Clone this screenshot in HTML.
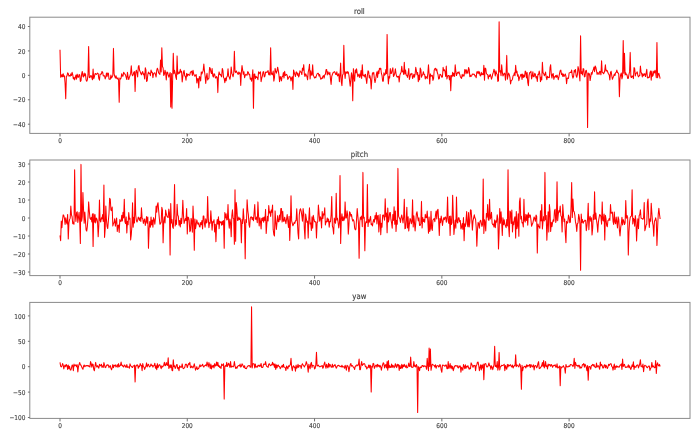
<!DOCTYPE html>
<html><head><meta charset="utf-8"><title>roll pitch yaw</title><style>html,body{margin:0;padding:0;background:#fff;width:700px;height:436px;overflow:hidden}svg{display:block;will-change:transform}text{font-family:"DejaVu Sans","Liberation Sans",sans-serif;font-size:6.70px;fill:#3a3a3a;stroke:#3a3a3a;stroke-width:0.12px;filter:url(#tb)}text.t{font-size:8.00px}</style></head><body>
<svg width="700" height="436" viewBox="0 0 700 436">
<defs><filter id="b" x="-5%" y="-5%" width="110%" height="110%"><feGaussianBlur stdDeviation="0.35"/></filter><filter id="tb" x="-10%" y="-10%" width="120%" height="120%"><feGaussianBlur stdDeviation="0.30"/></filter></defs>
<rect width="700" height="436" fill="#fff"/>
<polyline filter="url(#b)" fill="none" stroke="#ff0000" stroke-width="1.05" stroke-linejoin="round" points="60.00,49.70 60.64,77.12 61.27,76.75 61.91,74.54 62.55,76.79 63.18,73.71 63.82,76.72 64.45,75.88 65.09,83.48 65.73,98.80 66.36,76.28 67.00,75.80 67.64,72.78 68.27,73.52 68.91,76.21 69.55,75.44 70.18,76.09 70.82,73.90 71.46,75.45 72.09,72.31 72.73,74.68 73.36,78.92 74.00,77.34 74.64,79.86 75.27,77.59 75.91,75.12 76.55,79.14 77.18,74.15 77.82,77.02 78.46,77.27 79.09,74.54 79.73,74.88 80.36,81.38 81.00,80.60 81.64,74.17 82.27,71.42 82.91,76.09 83.55,76.99 84.18,73.07 84.82,75.81 85.46,73.83 86.09,80.07 86.73,81.19 87.37,79.77 88.00,74.68 88.64,46.50 89.27,77.55 89.91,77.66 90.55,75.81 91.18,75.60 91.82,77.49 92.46,79.82 93.09,69.12 93.73,78.74 94.37,76.90 95.00,73.81 95.64,73.60 96.27,74.46 96.91,73.96 97.55,73.17 98.18,73.66 98.82,78.59 99.46,80.16 100.09,73.98 100.73,74.16 101.37,74.06 102.00,71.49 102.64,72.17 103.28,75.87 103.91,75.77 104.55,75.85 105.18,78.92 105.82,77.05 106.46,73.08 107.09,76.35 107.73,72.93 108.37,73.14 109.00,79.08 109.64,79.31 110.28,79.34 110.91,75.14 111.55,78.04 112.18,76.72 112.82,75.51 113.46,48.40 114.09,73.74 114.73,76.31 115.37,78.09 116.00,75.75 116.64,78.27 117.28,79.02 117.91,77.74 118.55,79.83 119.19,102.30 119.82,77.98 120.46,79.16 121.09,78.03 121.73,73.70 122.37,76.09 123.00,76.22 123.64,72.29 124.28,73.37 124.91,74.18 125.55,75.02 126.19,77.36 126.82,79.58 127.46,72.31 128.09,76.75 128.73,79.55 129.37,77.45 130.00,75.57 130.64,73.13 131.28,65.68 131.91,74.06 132.55,75.73 133.19,74.72 133.82,72.15 134.46,71.67 135.10,91.60 135.73,72.59 136.37,70.17 137.00,72.98 137.64,77.02 138.28,67.04 138.91,65.44 139.55,70.33 140.19,71.65 140.82,73.58 141.46,74.80 142.10,72.51 142.73,71.62 143.37,74.70 144.00,73.73 144.64,79.05 145.28,67.75 145.91,69.86 146.55,81.37 147.19,80.77 147.82,74.50 148.46,72.12 149.10,73.57 149.73,73.26 150.37,75.71 151.01,69.99 151.64,72.46 152.28,72.23 152.91,77.68 153.55,73.64 154.19,73.10 154.82,72.70 155.46,74.73 156.10,77.01 156.73,70.36 157.37,68.26 158.01,70.05 158.64,72.95 159.28,73.68 159.91,74.34 160.55,60.00 161.19,71.87 161.82,47.80 162.46,66.47 163.10,68.02 163.73,75.47 164.37,74.19 165.01,70.20 165.64,72.93 166.28,79.99 166.92,72.10 167.55,72.21 168.19,74.84 168.82,77.18 169.46,74.95 170.10,72.51 170.73,106.90 171.37,73.44 172.01,108.20 172.64,78.77 173.28,53.20 173.92,73.66 174.55,70.26 175.19,73.27 175.82,77.09 176.46,79.39 177.10,55.90 177.73,74.22 178.37,73.59 179.01,72.04 179.64,73.24 180.28,69.37 180.92,72.12 181.55,71.29 182.19,81.86 182.83,76.45 183.46,72.28 184.10,70.39 184.73,76.04 185.37,76.25 186.01,80.13 186.64,73.40 187.28,76.12 187.92,74.16 188.55,74.53 189.19,75.38 189.83,74.83 190.46,71.96 191.10,71.92 191.73,71.22 192.37,75.48 193.01,70.35 193.64,73.70 194.28,75.25 194.92,76.36 195.55,74.89 196.19,74.65 196.83,83.05 197.46,78.70 198.10,78.61 198.74,88.00 199.37,76.58 200.01,77.12 200.64,81.00 201.28,71.90 201.92,73.90 202.55,72.35 203.19,70.41 203.83,64.00 204.46,71.02 205.10,76.12 205.74,83.56 206.37,76.77 207.01,73.28 207.64,80.00 208.28,78.66 208.92,78.31 209.55,67.49 210.19,68.09 210.83,71.75 211.46,73.61 212.10,68.64 212.74,75.67 213.37,77.04 214.01,73.68 214.65,74.36 215.28,77.34 215.92,78.17 216.55,76.50 217.19,77.56 217.83,92.60 218.46,75.57 219.10,71.90 219.74,74.68 220.37,74.28 221.01,75.67 221.65,76.86 222.28,68.49 222.92,70.52 223.55,77.51 224.19,78.58 224.83,82.69 225.46,78.12 226.10,80.82 226.74,76.96 227.37,76.18 228.01,68.67 228.65,75.97 229.28,77.13 229.92,79.32 230.56,75.84 231.19,66.91 231.83,73.17 232.46,74.92 233.10,76.75 233.74,73.22 234.37,51.20 235.01,71.21 235.65,72.63 236.28,70.89 236.92,72.35 237.56,73.44 238.19,74.45 238.83,71.96 239.46,73.65 240.10,72.82 240.74,85.40 241.37,72.55 242.01,65.48 242.65,70.14 243.28,74.31 243.92,71.66 244.56,77.80 245.19,75.65 245.83,74.21 246.47,75.04 247.10,75.13 247.74,71.65 248.37,72.36 249.01,74.62 249.65,74.24 250.28,79.23 250.92,78.15 251.56,81.22 252.19,77.09 252.83,69.81 253.47,108.20 254.10,74.21 254.74,74.02 255.37,78.68 256.01,76.31 256.65,77.44 257.28,77.28 257.92,79.67 258.56,71.81 259.19,73.83 259.83,72.44 260.47,71.86 261.10,81.62 261.74,78.19 262.38,75.82 263.01,71.96 263.65,71.66 264.28,76.92 264.92,76.25 265.56,72.21 266.19,71.93 266.83,72.47 267.47,71.59 268.10,70.62 268.74,74.77 269.38,72.82 270.01,75.13 270.65,47.80 271.28,74.34 271.92,73.17 272.56,74.78 273.19,71.05 273.83,81.10 274.47,77.73 275.10,68.29 275.74,71.04 276.38,73.21 277.01,70.89 277.65,67.17 278.29,70.66 278.92,74.86 279.56,81.81 280.19,76.45 280.83,77.83 281.47,80.85 282.10,76.44 282.74,76.43 283.38,72.60 284.01,78.07 284.65,71.32 285.29,75.50 285.92,74.92 286.56,74.38 287.19,75.44 287.83,79.36 288.47,78.19 289.10,76.90 289.74,76.19 290.38,77.62 291.01,80.96 291.65,77.74 292.29,76.73 292.92,89.40 293.56,69.99 294.20,72.42 294.83,74.63 295.47,76.55 296.10,72.01 296.74,72.07 297.38,75.22 298.01,73.24 298.65,76.98 299.29,75.24 299.92,70.72 300.56,71.96 301.20,72.00 301.83,74.58 302.47,68.15 303.10,70.19 303.74,64.65 304.38,74.32 305.01,76.50 305.65,73.76 306.29,75.24 306.92,76.48 307.56,79.84 308.20,72.11 308.83,69.45 309.47,64.39 310.11,79.08 310.74,70.85 311.38,75.04 312.01,75.13 312.65,64.70 313.29,75.10 313.92,76.59 314.56,78.04 315.20,76.97 315.83,77.73 316.47,75.43 317.11,73.83 317.74,73.29 318.38,73.33 319.01,76.04 319.65,74.53 320.29,77.55 320.92,79.35 321.56,78.10 322.20,78.52 322.83,76.45 323.47,75.68 324.11,78.11 324.74,74.78 325.38,74.24 326.02,69.77 326.65,69.50 327.29,74.87 327.92,71.72 328.56,73.49 329.20,74.48 329.83,72.32 330.47,78.92 331.11,84.54 331.74,76.38 332.38,74.49 333.02,72.80 333.65,72.51 334.29,71.65 334.92,72.08 335.56,74.27 336.20,74.57 336.83,71.82 337.47,75.86 338.11,75.36 338.74,73.79 339.38,81.68 340.02,75.52 340.65,63.10 341.29,81.94 341.93,85.60 342.56,75.07 343.20,73.96 343.83,45.20 344.47,71.31 345.11,78.52 345.74,71.85 346.38,72.00 347.02,73.50 347.65,71.60 348.29,72.06 348.93,75.25 349.56,80.76 350.20,86.20 350.83,79.86 351.47,72.74 352.11,75.31 352.74,100.70 353.38,68.65 354.02,77.56 354.65,81.11 355.29,69.84 355.93,72.83 356.56,68.82 357.20,73.22 357.84,76.71 358.47,75.06 359.11,73.93 359.74,77.58 360.38,75.76 361.02,70.57 361.65,78.38 362.29,64.70 362.93,75.39 363.56,75.94 364.20,74.85 364.84,77.00 365.47,74.29 366.11,78.99 366.74,83.49 367.38,75.78 368.02,70.73 368.65,71.77 369.29,77.88 369.93,75.64 370.56,79.31 371.20,88.90 371.84,79.15 372.47,72.70 373.11,73.87 373.75,72.39 374.38,78.90 375.02,82.59 375.65,79.41 376.29,74.96 376.93,71.84 377.56,77.43 378.20,70.88 378.84,73.72 379.47,68.17 380.11,69.17 380.75,68.16 381.38,73.45 382.02,75.51 382.65,81.14 383.29,81.14 383.93,72.79 384.56,75.12 385.20,74.64 385.84,69.61 386.47,73.73 387.11,34.40 387.75,73.23 388.38,84.00 389.02,76.45 389.66,77.93 390.29,68.48 390.93,73.52 391.56,73.24 392.20,69.86 392.84,67.82 393.47,76.39 394.11,75.45 394.75,73.01 395.38,68.76 396.02,73.82 396.66,76.26 397.29,77.25 397.93,76.34 398.56,76.26 399.20,82.07 399.84,75.25 400.47,73.53 401.11,72.30 401.75,66.33 402.38,71.74 403.02,71.01 403.66,74.51 404.29,62.30 404.93,74.01 405.57,69.97 406.20,75.14 406.84,75.17 407.47,77.36 408.11,73.62 408.75,68.54 409.38,79.46 410.02,76.79 410.66,73.85 411.29,74.26 411.93,73.40 412.57,78.49 413.20,76.95 413.84,74.35 414.47,77.14 415.11,74.23 415.75,67.34 416.38,70.70 417.02,74.83 417.66,72.47 418.29,81.75 418.93,75.03 419.57,79.85 420.20,68.04 420.84,69.62 421.48,77.25 422.11,75.01 422.75,74.89 423.38,71.68 424.02,74.31 424.66,74.59 425.29,78.92 425.93,76.50 426.57,77.48 427.20,78.62 427.84,73.26 428.48,64.70 429.11,74.22 429.75,84.00 430.38,73.80 431.02,76.16 431.66,75.79 432.29,75.27 432.93,80.36 433.57,78.62 434.20,70.23 434.84,68.63 435.48,68.32 436.11,70.70 436.75,69.04 437.39,73.06 438.02,74.45 438.66,79.08 439.29,78.61 439.93,74.27 440.57,74.42 441.20,75.50 441.84,77.29 442.48,76.74 443.11,67.29 443.75,70.77 444.39,69.80 445.02,71.33 445.66,76.41 446.29,66.00 446.93,78.88 447.57,76.23 448.20,75.49 448.84,75.57 449.48,79.82 450.11,75.60 450.75,90.80 451.39,75.41 452.02,76.79 452.66,72.27 453.30,76.08 453.93,73.16 454.57,76.41 455.20,64.70 455.84,71.43 456.48,75.58 457.11,73.46 457.75,72.25 458.39,73.13 459.02,71.80 459.66,74.18 460.30,76.46 460.93,77.63 461.57,78.37 462.20,74.35 462.84,76.25 463.48,74.92 464.11,76.05 464.75,69.58 465.39,69.94 466.02,73.80 466.66,69.88 467.30,72.81 467.93,73.18 468.57,67.49 469.21,69.35 469.84,76.73 470.48,75.28 471.11,76.41 471.75,75.47 472.39,73.94 473.02,74.43 473.66,74.09 474.30,74.18 474.93,76.07 475.57,75.82 476.21,77.79 476.84,71.83 477.48,73.11 478.11,71.18 478.75,73.73 479.39,71.82 480.02,75.28 480.66,76.00 481.30,72.33 481.93,74.67 482.57,73.66 483.21,74.67 483.84,65.30 484.48,80.13 485.12,68.13 485.75,68.58 486.39,73.54 487.02,74.25 487.66,74.44 488.30,78.87 488.93,75.66 489.57,76.35 490.21,74.21 490.84,76.48 491.48,79.21 492.12,77.16 492.75,73.96 493.39,72.18 494.02,69.22 494.66,72.06 495.30,75.96 495.93,70.77 496.57,73.73 497.21,74.39 497.84,81.38 498.48,80.62 499.12,21.80 499.75,71.95 500.39,70.70 501.03,75.63 501.66,64.70 502.30,71.86 502.93,75.93 503.57,74.77 504.21,73.14 504.84,73.70 505.48,80.24 506.12,71.94 506.75,55.40 507.39,79.16 508.03,75.85 508.66,73.09 509.30,74.61 509.93,77.42 510.57,83.89 511.21,80.51 511.84,80.31 512.48,79.18 513.12,75.71 513.75,75.40 514.39,72.83 515.03,75.63 515.66,65.30 516.30,72.75 516.94,71.12 517.57,76.13 518.21,74.76 518.84,80.62 519.48,77.81 520.12,76.62 520.75,74.58 521.39,74.25 522.03,79.53 522.66,73.98 523.30,77.49 523.94,75.16 524.57,76.87 525.21,71.13 525.84,71.82 526.48,78.05 527.12,72.62 527.75,82.34 528.39,85.74 529.03,75.59 529.66,72.61 530.30,72.60 530.94,71.22 531.57,78.97 532.21,76.30 532.85,71.88 533.48,76.79 534.12,76.76 534.75,73.32 535.39,74.37 536.03,78.03 536.66,76.49 537.30,81.40 537.94,74.25 538.57,74.69 539.21,71.04 539.85,74.33 540.48,81.69 541.12,77.10 541.75,79.87 542.39,62.30 543.03,72.89 543.66,73.47 544.30,75.63 544.94,74.67 545.57,72.10 546.21,77.01 546.85,79.63 547.48,76.17 548.12,77.61 548.76,77.20 549.39,77.58 550.03,67.73 550.66,64.70 551.30,74.42 551.94,78.08 552.57,74.17 553.21,73.59 553.85,79.35 554.48,76.75 555.12,77.00 555.76,75.55 556.39,77.30 557.03,75.09 557.66,76.75 558.30,79.72 558.94,76.94 559.57,73.42 560.21,70.72 560.85,70.08 561.48,74.64 562.12,73.27 562.76,76.39 563.39,74.06 564.03,76.53 564.67,75.33 565.30,73.93 565.94,76.32 566.57,83.63 567.21,78.09 567.85,78.28 568.48,78.44 569.12,73.06 569.76,72.65 570.39,72.22 571.03,72.59 571.67,70.00 572.30,75.54 572.94,78.12 573.57,76.64 574.21,70.25 574.85,71.94 575.48,69.41 576.12,75.72 576.76,77.32 577.39,74.74 578.03,66.54 578.67,69.24 579.30,74.41 579.94,81.07 580.58,35.80 581.21,73.58 581.85,71.83 582.48,74.92 583.12,68.62 583.76,68.89 584.39,76.87 585.03,76.56 585.67,70.91 586.30,70.34 586.94,73.82 587.58,127.50 588.21,72.95 588.85,74.86 589.48,73.79 590.12,80.59 590.76,76.64 591.39,72.57 592.03,74.27 592.67,71.11 593.30,69.83 593.94,67.01 594.58,71.64 595.21,65.93 595.85,67.47 596.49,70.69 597.12,74.44 597.76,72.64 598.39,72.89 599.03,74.51 599.67,71.37 600.30,71.54 600.94,74.84 601.58,60.70 602.21,72.20 602.85,72.50 603.49,73.82 604.12,72.91 604.76,70.28 605.39,64.78 606.03,71.27 606.67,70.36 607.30,70.62 607.94,72.81 608.58,74.01 609.21,75.04 609.85,79.93 610.49,72.39 611.12,71.29 611.76,75.53 612.40,79.29 613.03,77.65 613.67,76.18 614.30,74.04 614.94,75.55 615.58,72.64 616.21,72.44 616.85,70.07 617.49,72.54 618.12,72.94 618.76,74.21 619.40,96.70 620.03,78.34 620.67,74.68 621.30,73.02 621.94,78.93 622.58,76.32 623.21,40.60 623.85,73.13 624.49,53.20 625.12,74.97 625.76,72.86 626.40,74.72 627.03,74.81 627.67,78.36 628.31,78.37 628.94,74.67 629.58,71.63 630.21,52.40 630.85,76.88 631.49,77.54 632.12,75.88 632.76,76.41 633.40,78.61 634.03,67.60 634.67,68.51 635.31,75.94 635.94,73.48 636.58,72.87 637.21,71.84 637.85,75.44 638.49,76.85 639.12,75.64 639.76,75.75 640.40,66.00 641.03,71.89 641.67,73.72 642.31,76.91 642.94,73.57 643.58,75.80 644.22,74.52 644.85,73.59 645.49,76.53 646.12,73.44 646.76,69.31 647.40,77.72 648.03,77.97 648.67,77.13 649.31,77.39 649.94,72.71 650.58,71.02 651.22,80.17 651.85,71.10 652.49,76.34 653.12,75.19 653.76,71.19 654.40,72.89 655.03,70.24 655.67,72.88 656.31,77.67 656.94,42.50 657.58,77.71 658.22,74.33 658.85,73.30 659.49,75.78 660.13,78.70"/>
<rect x="29.80" y="17.20" width="660.20" height="116.20" fill="none" stroke="#8a8a8a" stroke-width="1"/>
<line x1="27.90" y1="26.51" x2="29.80" y2="26.51" stroke="#707070" stroke-width="1"/>
<text x="29.20" y="29.15" text-anchor="end" transform="scale(0.870,1)">40</text>
<line x1="27.90" y1="50.93" x2="29.80" y2="50.93" stroke="#707070" stroke-width="1"/>
<text x="29.20" y="53.57" text-anchor="end" transform="scale(0.870,1)">20</text>
<line x1="27.90" y1="75.35" x2="29.80" y2="75.35" stroke="#707070" stroke-width="1"/>
<text x="29.20" y="77.99" text-anchor="end" transform="scale(0.870,1)">0</text>
<line x1="27.90" y1="99.77" x2="29.80" y2="99.77" stroke="#707070" stroke-width="1"/>
<text x="29.20" y="102.41" text-anchor="end" transform="scale(0.870,1)">−20</text>
<line x1="27.90" y1="124.19" x2="29.80" y2="124.19" stroke="#707070" stroke-width="1"/>
<text x="29.20" y="126.83" text-anchor="end" transform="scale(0.870,1)">−40</text>
<line x1="60.00" y1="133.40" x2="60.00" y2="136.40" stroke="#707070" stroke-width="1"/>
<text x="68.97" y="142.69" text-anchor="middle" transform="scale(0.870,1)">0</text>
<line x1="187.28" y1="133.40" x2="187.28" y2="136.40" stroke="#707070" stroke-width="1"/>
<text x="215.26" y="142.69" text-anchor="middle" transform="scale(0.870,1)">200</text>
<line x1="314.56" y1="133.40" x2="314.56" y2="136.40" stroke="#707070" stroke-width="1"/>
<text x="361.56" y="142.69" text-anchor="middle" transform="scale(0.870,1)">400</text>
<line x1="441.84" y1="133.40" x2="441.84" y2="136.40" stroke="#707070" stroke-width="1"/>
<text x="507.86" y="142.69" text-anchor="middle" transform="scale(0.870,1)">600</text>
<line x1="569.12" y1="133.40" x2="569.12" y2="136.40" stroke="#707070" stroke-width="1"/>
<text x="654.16" y="142.69" text-anchor="middle" transform="scale(0.870,1)">800</text>
<text class="t" x="413.10" y="13.90" text-anchor="middle" transform="scale(0.870,1)">roll</text>
<polyline filter="url(#b)" fill="none" stroke="#ff0000" stroke-width="1.05" stroke-linejoin="round" points="60.00,235.50 60.64,240.80 61.27,221.08 61.91,227.68 62.55,219.88 63.18,214.79 63.82,215.49 64.45,218.32 65.09,224.37 65.73,217.78 66.36,222.18 67.00,223.91 67.64,214.41 68.27,239.00 68.91,222.89 69.55,219.66 70.18,218.14 70.82,206.00 71.46,214.85 72.09,216.72 72.73,223.72 73.36,222.12 74.00,224.35 74.64,169.70 75.27,214.08 75.91,221.40 76.55,212.76 77.18,211.70 77.82,222.47 78.46,217.52 79.09,212.28 79.73,221.85 80.36,243.50 81.00,164.40 81.64,221.29 82.27,216.77 82.91,192.50 83.55,209.77 84.18,223.17 84.82,212.08 85.46,220.39 86.09,230.03 86.73,231.09 87.37,226.30 88.00,217.71 88.64,201.90 89.27,210.57 89.91,217.91 90.55,219.33 91.18,217.41 91.82,221.91 92.46,213.80 93.09,246.40 93.73,213.83 94.37,222.17 95.00,214.48 95.64,223.05 96.27,218.10 96.91,218.96 97.55,222.22 98.18,236.80 98.82,225.04 99.46,200.07 100.09,220.63 100.73,222.02 101.37,217.77 102.00,218.90 102.64,214.45 103.28,221.59 103.91,185.00 104.55,237.36 105.18,228.95 105.82,206.09 106.46,219.91 107.09,226.51 107.73,228.51 108.37,220.60 109.00,213.31 109.64,198.31 110.28,199.20 110.91,210.03 111.55,210.60 112.18,206.95 112.82,225.86 113.46,223.55 114.09,222.67 114.73,218.68 115.37,226.13 116.00,222.11 116.64,217.95 117.28,231.47 117.91,225.54 118.55,225.08 119.19,232.50 119.82,219.64 120.46,221.18 121.09,221.43 121.73,215.25 122.37,221.00 123.00,212.35 123.64,218.02 124.28,199.20 124.91,221.62 125.55,223.59 126.19,216.90 126.82,233.00 127.46,221.18 128.09,224.79 128.73,212.53 129.37,219.12 130.00,218.25 130.64,239.91 131.28,234.71 131.91,225.80 132.55,202.81 133.19,227.31 133.82,217.30 134.46,223.09 135.10,188.50 135.73,215.04 136.37,220.52 137.00,221.98 137.64,220.40 138.28,217.11 138.91,218.53 139.55,220.41 140.19,217.46 140.82,221.41 141.46,207.69 142.10,218.30 142.73,218.63 143.37,223.43 144.00,220.74 144.64,218.96 145.28,225.42 145.91,222.18 146.55,216.59 147.19,223.16 147.82,217.06 148.46,248.30 149.10,229.12 149.73,221.45 150.37,227.14 151.01,216.91 151.64,224.89 152.28,219.97 152.91,227.14 153.55,217.65 154.19,219.70 154.82,224.14 155.46,218.11 156.10,206.00 156.73,212.26 157.37,204.57 158.01,202.68 158.64,210.42 159.28,217.94 159.91,224.30 160.55,223.54 161.19,221.97 161.82,207.29 162.46,210.10 163.10,242.70 163.73,221.88 164.37,216.72 165.01,223.03 165.64,210.08 166.28,213.97 166.92,216.17 167.55,217.04 168.19,217.52 168.82,209.13 169.46,212.82 170.10,255.00 170.73,203.43 171.37,223.04 172.01,219.51 172.64,227.08 173.28,228.39 173.92,212.40 174.55,184.50 175.19,225.87 175.82,220.39 176.46,224.38 177.10,204.35 177.73,214.91 178.37,216.47 179.01,225.30 179.64,220.54 180.28,226.98 180.92,218.33 181.55,223.73 182.19,216.51 182.83,200.17 183.46,215.08 184.10,223.50 184.73,220.82 185.37,218.60 186.01,220.58 186.64,208.62 187.28,234.00 187.92,217.10 188.55,217.63 189.19,220.62 189.83,231.70 190.46,230.61 191.10,218.24 191.73,221.21 192.37,232.30 193.01,206.00 193.64,219.95 194.28,250.20 194.92,218.98 195.55,228.72 196.19,224.39 196.83,219.90 197.46,222.93 198.10,224.28 198.74,222.81 199.37,226.50 200.01,226.99 200.64,222.52 201.28,224.67 201.92,220.58 202.55,228.94 203.19,215.92 203.83,216.10 204.46,223.69 205.10,227.33 205.74,218.88 206.37,222.91 207.01,222.07 207.64,196.60 208.28,217.95 208.92,227.77 209.55,222.44 210.19,223.32 210.83,210.83 211.46,220.60 212.10,230.14 212.74,221.59 213.37,222.26 214.01,219.73 214.65,232.00 215.28,224.38 215.92,241.62 216.55,226.04 217.19,219.44 217.83,224.09 218.46,216.76 219.10,228.62 219.74,221.15 220.37,222.58 221.01,221.98 221.65,225.22 222.28,221.15 222.92,224.70 223.55,220.46 224.19,248.30 224.83,212.44 225.46,217.91 226.10,213.78 226.74,219.96 227.37,219.59 228.01,204.60 228.65,221.62 229.28,228.23 229.92,219.01 230.56,223.14 231.19,236.80 231.83,215.82 232.46,209.89 233.10,218.06 233.74,218.84 234.37,244.30 235.01,189.80 235.65,241.33 236.28,202.51 236.92,209.30 237.56,220.53 238.19,219.98 238.83,217.02 239.46,219.53 240.10,218.15 240.74,222.35 241.37,242.70 242.01,219.65 242.65,223.37 243.28,208.85 243.92,218.65 244.56,223.41 245.19,258.80 245.83,219.50 246.47,222.42 247.10,199.68 247.74,210.00 248.37,214.90 249.01,224.67 249.65,227.29 250.28,218.33 250.92,216.87 251.56,216.92 252.19,219.56 252.83,217.49 253.47,220.82 254.10,212.67 254.74,204.60 255.37,219.23 256.01,219.29 256.65,217.11 257.28,222.63 257.92,201.90 258.56,216.07 259.19,226.00 259.83,217.67 260.47,221.67 261.10,228.94 261.74,218.17 262.38,220.77 263.01,217.22 263.65,222.22 264.28,217.03 264.92,220.45 265.56,209.40 266.19,233.49 266.83,224.04 267.47,216.20 268.10,221.00 268.74,205.45 269.38,212.91 270.01,211.66 270.65,216.55 271.28,209.92 271.92,212.30 272.56,205.10 273.19,229.42 273.83,234.51 274.47,235.92 275.10,210.90 275.74,221.95 276.38,229.48 277.01,222.41 277.65,215.65 278.29,221.69 278.92,221.75 279.56,215.06 280.19,219.95 280.83,208.56 281.47,208.60 282.10,221.98 282.74,211.39 283.38,221.20 284.01,221.33 284.65,217.18 285.29,220.32 285.92,223.72 286.56,218.98 287.19,214.61 287.83,221.31 288.47,227.55 289.10,216.38 289.74,240.42 290.38,223.58 291.01,195.70 291.65,220.92 292.29,223.32 292.92,225.83 293.56,224.33 294.20,222.39 294.83,223.35 295.47,220.75 296.10,220.68 296.74,208.76 297.38,221.35 298.01,233.26 298.65,238.90 299.29,214.84 299.92,209.82 300.56,208.81 301.20,211.38 301.83,215.73 302.47,221.23 303.10,208.60 303.74,213.23 304.38,229.41 305.01,238.90 305.65,214.02 306.29,218.31 306.92,222.52 307.56,221.13 308.20,238.10 308.83,218.48 309.47,207.74 310.11,224.07 310.74,223.01 311.38,230.59 312.01,216.81 312.65,228.32 313.29,215.38 313.92,218.88 314.56,221.59 315.20,221.98 315.83,221.63 316.47,238.10 317.11,222.86 317.74,221.81 318.38,205.10 319.01,212.63 319.65,221.23 320.29,216.70 320.92,218.10 321.56,228.04 322.20,211.55 322.83,218.56 323.47,213.90 324.11,214.86 324.74,207.80 325.38,224.99 326.02,221.55 326.65,221.88 327.29,217.93 327.92,221.79 328.56,218.96 329.20,227.15 329.83,221.34 330.47,221.76 331.11,215.15 331.74,196.60 332.38,225.96 333.02,228.34 333.65,234.10 334.29,218.09 334.92,221.47 335.56,223.25 336.20,193.30 336.83,220.05 337.47,218.29 338.11,222.48 338.74,227.90 339.38,223.21 340.02,175.60 340.65,243.50 341.29,219.95 341.93,213.79 342.56,220.79 343.20,216.73 343.83,220.65 344.47,218.86 345.11,201.90 345.74,217.99 346.38,217.94 347.02,210.76 347.65,215.19 348.29,234.10 348.93,224.65 349.56,211.75 350.20,212.80 350.83,216.25 351.47,214.45 352.11,218.62 352.74,221.06 353.38,219.64 354.02,221.33 354.65,228.11 355.29,229.86 355.93,229.10 356.56,219.05 357.20,208.60 357.84,216.05 358.47,223.33 359.11,258.20 359.74,222.00 360.38,217.07 361.02,219.14 361.65,215.98 362.29,226.73 362.93,172.40 363.56,218.13 364.20,217.37 364.84,250.70 365.47,223.43 366.11,221.48 366.74,222.70 367.38,184.50 368.02,226.58 368.65,219.65 369.29,222.22 369.93,219.09 370.56,216.40 371.20,224.70 371.84,223.86 372.47,225.91 373.11,221.54 373.75,219.50 374.38,222.24 375.02,215.61 375.65,219.06 376.29,212.60 376.93,223.98 377.56,215.84 378.20,215.28 378.84,231.92 379.47,222.31 380.11,214.62 380.75,234.61 381.38,223.17 382.02,227.28 382.65,215.25 383.29,214.90 383.93,216.94 384.56,220.21 385.20,198.70 385.84,216.84 386.47,213.12 387.11,232.80 387.75,207.91 388.38,221.88 389.02,219.41 389.66,212.66 390.29,212.48 390.93,219.44 391.56,222.80 392.20,228.29 392.84,214.61 393.47,220.55 394.11,206.70 394.75,224.11 395.38,210.93 396.02,231.40 396.66,220.28 397.29,224.21 397.93,168.40 398.56,216.18 399.20,217.86 399.84,218.65 400.47,222.43 401.11,217.54 401.75,214.99 402.38,218.29 403.02,223.00 403.66,216.76 404.29,199.20 404.93,228.66 405.57,228.24 406.20,220.05 406.84,207.30 407.47,227.97 408.11,216.82 408.75,230.90 409.38,224.32 410.02,218.53 410.66,219.61 411.29,223.75 411.93,221.86 412.57,199.80 413.20,227.02 413.84,215.88 414.47,222.65 415.11,231.02 415.75,222.69 416.38,213.56 417.02,211.76 417.66,216.80 418.29,220.85 418.93,217.79 419.57,225.42 420.20,225.47 420.84,223.38 421.48,201.40 422.11,227.92 422.75,217.41 423.38,221.57 424.02,219.49 424.66,222.28 425.29,214.32 425.93,217.73 426.57,217.67 427.20,211.10 427.84,220.89 428.48,233.24 429.11,217.03 429.75,231.40 430.38,228.71 431.02,211.16 431.66,228.27 432.29,230.41 432.93,220.06 433.57,219.22 434.20,218.61 434.84,221.72 435.48,215.19 436.11,211.13 436.75,218.86 437.39,210.32 438.02,209.40 438.66,220.71 439.29,235.40 439.93,218.62 440.57,222.77 441.20,216.14 441.84,219.79 442.48,225.37 443.11,220.90 443.75,217.67 444.39,219.63 445.02,217.14 445.66,217.00 446.29,222.31 446.93,217.79 447.57,197.10 448.20,221.03 448.84,223.38 449.48,216.37 450.11,235.40 450.75,215.96 451.39,224.56 452.02,222.49 452.66,195.20 453.30,214.66 453.93,234.42 454.57,226.76 455.20,220.04 455.84,228.27 456.48,197.10 457.11,221.69 457.75,223.01 458.39,217.87 459.02,217.82 459.66,221.81 460.30,220.53 460.93,229.05 461.57,227.15 462.20,223.55 462.84,229.33 463.48,217.45 464.11,240.80 464.75,223.77 465.39,226.35 466.02,220.58 466.66,211.50 467.30,224.04 467.93,226.81 468.57,212.60 469.21,226.94 469.84,222.27 470.48,209.84 471.11,210.28 471.75,219.14 472.39,230.10 473.02,220.81 473.66,217.97 474.30,214.87 474.93,218.05 475.57,219.29 476.21,227.42 476.84,246.20 477.48,230.31 478.11,222.39 478.75,223.67 479.39,228.16 480.02,221.21 480.66,220.19 481.30,222.89 481.93,226.39 482.57,224.31 483.21,179.10 483.84,233.56 484.48,219.69 485.12,222.45 485.75,231.02 486.39,213.46 487.02,217.28 487.66,204.60 488.30,219.45 488.93,220.34 489.57,199.36 490.21,219.09 490.84,217.23 491.48,212.39 492.12,223.37 492.75,224.79 493.39,224.12 494.02,227.07 494.66,219.90 495.30,227.81 495.93,220.85 496.57,222.23 497.21,214.76 497.84,219.12 498.48,248.90 499.12,232.36 499.75,208.62 500.39,223.18 501.03,211.89 501.66,221.55 502.30,235.40 502.93,217.68 503.57,224.65 504.21,219.84 504.84,224.35 505.48,225.71 506.12,227.63 506.75,219.51 507.39,225.91 508.03,169.70 508.66,226.82 509.30,236.80 509.93,211.04 510.57,212.26 511.21,223.58 511.84,210.07 512.48,231.93 513.12,221.82 513.75,224.68 514.39,218.44 515.03,216.81 515.66,238.10 516.30,211.55 516.94,228.67 517.57,225.55 518.21,213.72 518.84,236.13 519.48,201.73 520.12,197.90 520.75,219.01 521.39,216.33 522.03,223.01 522.66,222.46 523.30,226.97 523.94,199.20 524.57,220.53 525.21,222.10 525.84,214.21 526.48,220.38 527.12,214.87 527.75,225.28 528.39,212.71 529.03,217.50 529.66,214.95 530.30,214.97 530.94,219.92 531.57,226.32 532.21,224.45 532.85,223.07 533.48,219.83 534.12,216.92 534.75,218.75 535.39,221.29 536.03,215.09 536.66,216.19 537.30,252.90 537.94,224.02 538.57,226.08 539.21,226.93 539.85,228.30 540.48,210.76 541.12,220.93 541.75,204.60 542.39,229.05 543.03,221.54 543.66,216.63 544.30,220.90 544.94,172.40 545.57,219.62 546.21,215.43 546.85,240.27 547.48,225.19 548.12,211.82 548.76,231.89 549.39,204.60 550.03,211.36 550.66,231.40 551.30,222.35 551.94,226.75 552.57,222.71 553.21,219.85 553.85,221.18 554.48,210.82 555.12,209.25 555.76,222.45 556.39,219.43 557.03,181.80 557.66,220.61 558.30,213.97 558.94,210.50 559.57,212.08 560.21,206.00 560.85,215.68 561.48,216.77 562.12,232.09 562.76,204.60 563.39,214.02 564.03,221.76 564.67,218.98 565.30,233.34 565.94,242.70 566.57,221.30 567.21,223.33 567.85,222.32 568.48,215.09 569.12,217.14 569.76,222.75 570.39,222.08 571.03,207.02 571.67,182.60 572.30,217.45 572.94,198.93 573.57,211.04 574.21,211.81 574.85,215.46 575.48,221.88 576.12,224.71 576.76,231.40 577.39,223.67 578.03,223.02 578.67,214.32 579.30,217.37 579.94,223.77 580.58,270.30 581.21,213.97 581.85,222.37 582.48,219.50 583.12,223.28 583.76,221.59 584.39,221.08 585.03,220.14 585.67,220.45 586.30,230.76 586.94,225.87 587.58,218.85 588.21,203.30 588.85,229.78 589.48,218.41 590.12,216.21 590.76,221.22 591.39,217.81 592.03,235.03 592.67,228.32 593.30,214.67 593.94,219.46 594.58,191.70 595.21,219.32 595.85,212.98 596.49,220.17 597.12,224.30 597.76,232.28 598.39,221.92 599.03,218.01 599.67,214.49 600.30,215.16 600.94,216.50 601.58,224.13 602.21,201.90 602.85,220.09 603.49,220.87 604.12,214.13 604.76,240.08 605.39,215.21 606.03,219.18 606.67,225.51 607.30,226.75 607.94,220.43 608.58,220.16 609.21,218.47 609.85,220.44 610.49,204.60 611.12,213.10 611.76,213.14 612.40,212.11 613.03,221.30 613.67,224.48 614.30,211.96 614.94,222.03 615.58,223.83 616.21,216.99 616.85,221.98 617.49,228.02 618.12,216.87 618.76,219.37 619.40,230.10 620.03,236.00 620.67,227.63 621.30,223.48 621.94,217.18 622.58,225.06 623.21,219.57 623.85,221.19 624.49,224.59 625.12,222.73 625.76,200.60 626.40,218.13 627.03,215.41 627.67,217.61 628.31,255.00 628.94,232.52 629.58,222.01 630.21,217.45 630.85,216.36 631.49,215.99 632.12,189.80 632.76,224.00 633.40,218.36 634.03,219.21 634.67,226.20 635.31,215.57 635.94,220.48 636.58,241.03 637.21,226.84 637.85,218.77 638.49,228.70 639.12,215.82 639.76,214.48 640.40,209.70 641.03,218.33 641.67,218.31 642.31,218.76 642.94,219.30 643.58,217.83 644.22,202.50 644.85,230.67 645.49,228.13 646.12,224.97 646.76,224.15 647.40,202.50 648.03,199.01 648.67,217.33 649.31,227.40 649.94,218.82 650.58,221.12 651.22,203.30 651.85,212.81 652.49,222.39 653.12,225.28 653.76,236.30 654.40,221.46 655.03,220.27 655.67,217.76 656.31,221.09 656.94,245.40 657.58,228.99 658.22,214.50 658.85,208.23 659.49,214.29 660.13,219.00"/>
<rect x="29.80" y="160.00" width="660.20" height="115.60" fill="none" stroke="#8a8a8a" stroke-width="1"/>
<line x1="27.90" y1="164.00" x2="29.80" y2="164.00" stroke="#707070" stroke-width="1"/>
<text x="29.20" y="166.64" text-anchor="end" transform="scale(0.870,1)">30</text>
<line x1="27.90" y1="182.00" x2="29.80" y2="182.00" stroke="#707070" stroke-width="1"/>
<text x="29.20" y="184.64" text-anchor="end" transform="scale(0.870,1)">20</text>
<line x1="27.90" y1="200.00" x2="29.80" y2="200.00" stroke="#707070" stroke-width="1"/>
<text x="29.20" y="202.64" text-anchor="end" transform="scale(0.870,1)">10</text>
<line x1="27.90" y1="218.00" x2="29.80" y2="218.00" stroke="#707070" stroke-width="1"/>
<text x="29.20" y="220.64" text-anchor="end" transform="scale(0.870,1)">0</text>
<line x1="27.90" y1="236.00" x2="29.80" y2="236.00" stroke="#707070" stroke-width="1"/>
<text x="29.20" y="238.64" text-anchor="end" transform="scale(0.870,1)">−10</text>
<line x1="27.90" y1="254.00" x2="29.80" y2="254.00" stroke="#707070" stroke-width="1"/>
<text x="29.20" y="256.64" text-anchor="end" transform="scale(0.870,1)">−20</text>
<line x1="27.90" y1="272.00" x2="29.80" y2="272.00" stroke="#707070" stroke-width="1"/>
<text x="29.20" y="274.64" text-anchor="end" transform="scale(0.870,1)">−30</text>
<line x1="60.00" y1="275.60" x2="60.00" y2="278.60" stroke="#707070" stroke-width="1"/>
<text x="68.97" y="284.89" text-anchor="middle" transform="scale(0.870,1)">0</text>
<line x1="187.28" y1="275.60" x2="187.28" y2="278.60" stroke="#707070" stroke-width="1"/>
<text x="215.26" y="284.89" text-anchor="middle" transform="scale(0.870,1)">200</text>
<line x1="314.56" y1="275.60" x2="314.56" y2="278.60" stroke="#707070" stroke-width="1"/>
<text x="361.56" y="284.89" text-anchor="middle" transform="scale(0.870,1)">400</text>
<line x1="441.84" y1="275.60" x2="441.84" y2="278.60" stroke="#707070" stroke-width="1"/>
<text x="507.86" y="284.89" text-anchor="middle" transform="scale(0.870,1)">600</text>
<line x1="569.12" y1="275.60" x2="569.12" y2="278.60" stroke="#707070" stroke-width="1"/>
<text x="654.16" y="284.89" text-anchor="middle" transform="scale(0.870,1)">800</text>
<text class="t" x="413.10" y="156.70" text-anchor="middle" transform="scale(0.870,1)">pitch</text>
<polyline filter="url(#b)" fill="none" stroke="#ff0000" stroke-width="1.05" stroke-linejoin="round" points="60.00,362.40 60.64,366.09 61.27,366.89 61.91,365.92 62.55,363.52 63.18,364.98 63.82,368.85 64.45,366.14 65.09,364.94 65.73,366.71 66.36,364.60 67.00,365.49 67.64,369.38 68.27,365.03 68.91,368.70 69.55,366.28 70.18,369.80 70.82,370.11 71.46,368.21 72.09,365.01 72.73,365.53 73.36,370.74 74.00,364.07 74.64,365.89 75.27,365.26 75.91,364.84 76.55,366.81 77.18,364.69 77.82,372.00 78.46,366.74 79.09,364.32 79.73,362.52 80.36,364.97 81.00,365.09 81.64,366.86 82.27,368.18 82.91,369.30 83.55,366.08 84.18,365.05 84.82,366.80 85.46,365.70 86.09,366.07 86.73,365.52 87.37,365.43 88.00,366.22 88.64,365.63 89.27,366.62 89.91,366.94 90.55,361.64 91.18,363.54 91.82,367.16 92.46,364.06 93.09,364.43 93.73,369.37 94.37,370.74 95.00,366.28 95.64,362.40 96.27,365.86 96.91,367.09 97.55,365.61 98.18,367.08 98.82,368.11 99.46,364.24 100.09,365.75 100.73,365.75 101.37,364.19 102.00,367.35 102.64,365.91 103.28,367.35 103.91,362.50 104.55,365.24 105.18,367.62 105.82,367.36 106.46,365.13 107.09,365.38 107.73,364.72 108.37,365.21 109.00,367.64 109.64,366.36 110.28,365.65 110.91,368.30 111.55,369.74 112.18,367.66 112.82,364.57 113.46,367.66 114.09,365.35 114.73,365.81 115.37,364.83 116.00,367.04 116.64,366.24 117.28,364.67 117.91,367.30 118.55,363.65 119.19,366.66 119.82,365.93 120.46,365.30 121.09,361.99 121.73,365.49 122.37,365.26 123.00,366.62 123.64,367.03 124.28,364.97 124.91,365.15 125.55,367.02 126.19,367.25 126.82,364.54 127.46,367.38 128.09,367.02 128.73,366.89 129.37,368.21 130.00,363.81 130.64,365.73 131.28,366.32 131.91,367.08 132.55,367.42 133.19,366.02 133.82,365.85 134.46,365.09 135.10,381.90 135.73,365.79 136.37,365.89 137.00,364.87 137.64,365.00 138.28,368.29 138.91,365.99 139.55,366.81 140.19,363.56 140.82,365.29 141.46,365.20 142.10,370.74 142.73,363.57 143.37,366.55 144.00,367.04 144.64,369.43 145.28,367.51 145.91,366.37 146.55,362.90 147.19,366.88 147.82,365.10 148.46,364.26 149.10,366.19 149.73,366.89 150.37,366.02 151.01,363.97 151.64,365.69 152.28,365.22 152.91,367.13 153.55,365.68 154.19,365.47 154.82,363.18 155.46,368.28 156.10,365.67 156.73,369.64 157.37,363.65 158.01,367.61 158.64,365.98 159.28,364.65 159.91,365.01 160.55,366.82 161.19,368.69 161.82,365.83 162.46,367.00 163.10,366.38 163.73,365.17 164.37,362.29 165.01,365.78 165.64,365.48 166.28,362.62 166.92,364.94 167.55,365.37 168.19,357.80 168.82,368.55 169.46,366.97 170.10,364.67 170.73,367.73 171.37,364.96 172.01,370.40 172.64,370.74 173.28,359.70 173.92,366.76 174.55,365.69 175.19,368.38 175.82,367.31 176.46,364.95 177.10,364.45 177.73,368.74 178.37,367.56 179.01,370.74 179.64,365.77 180.28,367.19 180.92,366.83 181.55,367.21 182.19,363.90 182.83,367.85 183.46,368.62 184.10,368.01 184.73,367.38 185.37,364.54 186.01,364.07 186.64,364.91 187.28,367.59 187.92,365.53 188.55,363.54 189.19,364.32 189.83,362.34 190.46,367.77 191.10,367.50 191.73,365.96 192.37,366.92 193.01,367.86 193.64,366.11 194.28,363.85 194.92,366.94 195.55,370.14 196.19,368.62 196.83,366.66 197.46,369.38 198.10,368.80 198.74,368.26 199.37,366.46 200.01,364.72 200.64,366.60 201.28,365.70 201.92,365.80 202.55,364.30 203.19,365.90 203.83,367.13 204.46,365.69 205.10,365.56 205.74,364.90 206.37,365.92 207.01,361.99 207.64,364.32 208.28,366.96 208.92,362.63 209.55,365.16 210.19,368.48 210.83,363.96 211.46,368.99 212.10,365.68 212.74,366.96 213.37,365.22 214.01,367.89 214.65,363.65 215.28,365.98 215.92,365.78 216.55,362.07 217.19,365.72 217.83,362.35 218.46,366.40 219.10,365.58 219.74,367.47 220.37,366.86 221.01,368.55 221.65,364.04 222.28,365.08 222.92,365.49 223.55,363.77 224.19,399.10 224.83,366.35 225.46,365.56 226.10,366.46 226.74,362.40 227.37,366.45 228.01,365.01 228.65,363.23 229.28,365.12 229.92,367.42 230.56,361.64 231.19,367.20 231.83,366.33 232.46,366.20 233.10,366.83 233.74,366.04 234.37,361.60 235.01,365.68 235.65,368.48 236.28,367.17 236.92,368.27 237.56,366.47 238.19,365.82 238.83,365.62 239.46,366.00 240.10,364.06 240.74,367.10 241.37,366.46 242.01,363.79 242.65,364.81 243.28,366.19 243.92,367.53 244.56,365.68 245.19,368.41 245.83,368.55 246.47,368.63 247.10,366.93 247.74,365.98 248.37,365.89 249.01,365.47 249.65,365.70 250.28,367.24 250.92,366.97 251.56,306.80 252.19,367.94 252.83,363.78 253.47,363.83 254.10,363.79 254.74,367.96 255.37,364.08 256.01,367.13 256.65,366.73 257.28,367.20 257.92,365.32 258.56,365.33 259.19,366.45 259.83,365.13 260.47,366.14 261.10,363.47 261.74,367.58 262.38,367.57 263.01,366.94 263.65,363.99 264.28,364.32 264.92,364.56 265.56,361.64 266.19,365.17 266.83,366.54 267.47,366.69 268.10,367.36 268.74,364.09 269.38,363.69 270.01,365.04 270.65,365.72 271.28,364.79 271.92,364.91 272.56,362.21 273.19,365.02 273.83,363.77 274.47,367.31 275.10,363.94 275.74,369.48 276.38,364.77 277.01,367.80 277.65,365.16 278.29,365.06 278.92,366.54 279.56,366.46 280.19,368.65 280.83,367.72 281.47,366.60 282.10,365.55 282.74,367.24 283.38,364.24 284.01,367.02 284.65,367.36 285.29,367.66 285.92,370.55 286.56,366.11 287.19,367.28 287.83,368.86 288.47,365.80 289.10,366.68 289.74,365.54 290.38,364.46 291.01,358.30 291.65,367.51 292.29,370.74 292.92,366.67 293.56,365.78 294.20,367.37 294.83,367.05 295.47,371.20 296.10,365.11 296.74,368.23 297.38,367.20 298.01,364.27 298.65,367.41 299.29,365.78 299.92,365.46 300.56,365.88 301.20,368.42 301.83,365.06 302.47,363.71 303.10,364.97 303.74,365.78 304.38,367.03 305.01,365.65 305.65,364.56 306.29,361.64 306.92,363.75 307.56,366.41 308.20,372.30 308.83,364.23 309.47,366.82 310.11,368.83 310.74,363.97 311.38,362.40 312.01,367.43 312.65,365.21 313.29,365.51 313.92,365.75 314.56,368.96 315.20,368.08 315.83,364.62 316.47,352.20 317.11,365.97 317.74,365.70 318.38,365.15 319.01,366.29 319.65,366.71 320.29,366.66 320.92,366.15 321.56,366.21 322.20,365.45 322.83,368.31 323.47,366.96 324.11,364.22 324.74,362.02 325.38,365.98 326.02,368.25 326.65,364.19 327.29,366.81 327.92,367.83 328.56,363.31 329.20,367.00 329.83,364.26 330.47,365.35 331.11,367.08 331.74,367.28 332.38,364.15 333.02,367.34 333.65,365.74 334.29,365.67 334.92,364.55 335.56,366.25 336.20,368.15 336.83,367.14 337.47,365.85 338.11,365.57 338.74,365.35 339.38,366.33 340.02,366.03 340.65,366.65 341.29,366.99 341.93,365.18 342.56,366.97 343.20,366.77 343.83,366.67 344.47,368.18 345.11,365.24 345.74,367.27 346.38,370.25 347.02,365.29 347.65,365.82 348.29,366.99 348.93,371.70 349.56,367.79 350.20,364.75 350.83,363.46 351.47,366.21 352.11,365.44 352.74,366.14 353.38,367.21 354.02,367.59 354.65,369.50 355.29,366.01 355.93,366.22 356.56,365.06 357.20,365.00 357.84,365.81 358.47,364.20 359.11,359.10 359.74,369.80 360.38,369.79 361.02,364.92 361.65,361.64 362.29,365.46 362.93,364.52 363.56,364.01 364.20,363.48 364.84,364.29 365.47,366.83 366.11,366.34 366.74,368.89 367.38,367.70 368.02,367.47 368.65,365.07 369.29,367.97 369.93,365.12 370.56,365.80 371.20,391.90 371.84,366.33 372.47,367.14 373.11,363.39 373.75,363.71 374.38,368.35 375.02,366.69 375.65,365.44 376.29,365.00 376.93,367.13 377.56,364.31 378.20,366.30 378.84,365.13 379.47,367.07 380.11,365.40 380.75,367.19 381.38,370.14 382.02,366.66 382.65,364.75 383.29,362.68 383.93,363.85 384.56,367.86 385.20,365.30 385.84,364.64 386.47,367.96 387.11,361.64 387.75,370.18 388.38,360.50 389.02,367.84 389.66,365.65 390.29,367.19 390.93,367.50 391.56,364.01 392.20,367.43 392.84,365.27 393.47,366.03 394.11,367.74 394.75,366.25 395.38,363.71 396.02,366.47 396.66,367.59 397.29,364.22 397.93,365.85 398.56,364.60 399.20,370.39 399.84,365.21 400.47,368.53 401.11,368.18 401.75,364.31 402.38,368.14 403.02,365.02 403.66,366.64 404.29,364.30 404.93,366.29 405.57,367.25 406.20,365.02 406.84,367.88 407.47,367.45 408.11,366.17 408.75,363.09 409.38,366.33 410.02,366.54 410.66,357.00 411.29,366.21 411.93,367.50 412.57,367.19 413.20,367.08 413.84,361.64 414.47,366.32 415.11,365.66 415.75,367.01 416.38,364.44 417.02,366.13 417.66,412.50 418.29,366.69 418.93,367.48 419.57,370.74 420.20,366.98 420.84,367.44 421.48,367.45 422.11,365.47 422.75,365.61 423.38,366.80 424.02,365.73 424.66,366.25 425.29,366.08 425.93,366.48 426.57,369.30 427.20,358.30 427.84,365.66 428.48,370.74 429.11,348.10 429.75,366.41 430.38,349.00 431.02,370.34 431.66,366.58 432.29,364.18 432.93,364.65 433.57,365.11 434.20,365.49 434.84,366.99 435.48,364.70 436.11,368.24 436.75,365.94 437.39,365.83 438.02,365.54 438.66,366.96 439.29,366.54 439.93,364.50 440.57,365.86 441.20,370.20 441.84,372.30 442.48,365.06 443.11,365.15 443.75,365.15 444.39,366.01 445.02,366.13 445.66,365.12 446.29,364.92 446.93,368.72 447.57,368.70 448.20,361.64 448.84,368.57 449.48,366.71 450.11,363.54 450.75,368.06 451.39,365.69 452.02,368.90 452.66,366.27 453.30,370.71 453.93,368.26 454.57,366.32 455.20,365.46 455.84,365.97 456.48,366.09 457.11,365.48 457.75,367.44 458.39,367.99 459.02,365.87 459.66,366.96 460.30,365.95 460.93,372.30 461.57,367.30 462.20,368.31 462.84,370.26 463.48,364.47 464.11,366.36 464.75,368.63 465.39,364.85 466.02,368.29 466.66,366.17 467.30,366.90 467.93,365.61 468.57,367.81 469.21,369.23 469.84,367.88 470.48,368.81 471.11,362.89 471.75,364.16 472.39,365.84 473.02,367.26 473.66,365.53 474.30,365.76 474.93,365.39 475.57,370.73 476.21,365.82 476.84,364.73 477.48,362.17 478.11,362.04 478.75,365.77 479.39,370.74 480.02,367.30 480.66,364.83 481.30,369.87 481.93,365.06 482.57,368.03 483.21,364.11 483.84,379.80 484.48,364.48 485.12,363.62 485.75,363.69 486.39,365.99 487.02,367.11 487.66,366.67 488.30,365.31 488.93,362.96 489.57,365.72 490.21,365.80 490.84,369.30 491.48,365.86 492.12,367.12 492.75,369.62 493.39,367.23 494.02,364.75 494.66,346.30 495.30,366.44 495.93,365.60 496.57,367.30 497.21,361.64 497.84,370.20 498.48,367.15 499.12,352.40 499.75,370.01 500.39,366.76 501.03,366.54 501.66,365.34 502.30,365.62 502.93,365.40 503.57,364.93 504.21,364.24 504.84,370.74 505.48,365.47 506.12,367.78 506.75,369.25 507.39,364.40 508.03,366.88 508.66,364.71 509.30,365.89 509.93,365.31 510.57,364.70 511.21,366.42 511.84,367.04 512.48,364.99 513.12,367.97 513.75,366.51 514.39,365.42 515.03,365.83 515.66,354.80 516.30,366.60 516.94,364.84 517.57,365.77 518.21,365.94 518.84,367.01 519.48,363.82 520.12,364.89 520.75,367.86 521.39,389.20 522.03,365.19 522.66,370.74 523.30,367.28 523.94,366.98 524.57,366.33 525.21,366.54 525.84,367.94 526.48,364.86 527.12,366.74 527.75,365.14 528.39,366.07 529.03,365.69 529.66,364.45 530.30,367.59 530.94,364.52 531.57,366.07 532.21,366.97 532.85,365.88 533.48,364.88 534.12,369.93 534.75,366.10 535.39,365.45 536.03,365.87 536.66,367.80 537.30,366.72 537.94,363.34 538.57,361.64 539.21,368.39 539.85,368.61 540.48,367.42 541.12,366.92 541.75,365.52 542.39,362.55 543.03,366.40 543.66,360.50 544.30,367.87 544.94,366.41 545.57,361.64 546.21,366.42 546.85,365.73 547.48,368.88 548.12,364.09 548.76,365.88 549.39,364.53 550.03,364.84 550.66,366.27 551.30,364.53 551.94,365.41 552.57,367.27 553.21,365.96 553.85,365.29 554.48,365.60 555.12,364.69 555.76,367.18 556.39,367.23 557.03,363.73 557.66,368.00 558.30,367.81 558.94,366.77 559.57,366.02 560.21,385.70 560.85,366.63 561.48,367.92 562.12,367.17 562.76,366.75 563.39,365.66 564.03,367.25 564.67,368.02 565.30,373.10 565.94,364.45 566.57,366.86 567.21,366.57 567.85,367.06 568.48,366.35 569.12,366.06 569.76,366.43 570.39,364.50 571.03,364.66 571.67,364.85 572.30,365.18 572.94,366.63 573.57,364.99 574.21,358.30 574.85,368.40 575.48,362.30 576.12,364.69 576.76,365.63 577.39,365.38 578.03,366.91 578.67,365.22 579.30,365.28 579.94,368.32 580.58,366.91 581.21,368.03 581.85,366.94 582.48,364.61 583.12,364.66 583.76,363.48 584.39,367.21 585.03,364.35 585.67,365.46 586.30,367.28 586.94,370.74 587.58,365.50 588.21,380.30 588.85,366.70 589.48,366.54 590.12,366.99 590.76,369.27 591.39,365.52 592.03,365.25 592.67,364.35 593.30,365.97 593.94,364.47 594.58,366.68 595.21,367.05 595.85,367.71 596.49,363.02 597.12,367.09 597.76,366.07 598.39,365.76 599.03,367.24 599.67,369.33 600.30,361.96 600.94,365.85 601.58,364.57 602.21,365.59 602.85,368.00 603.49,367.92 604.12,365.42 604.76,364.71 605.39,367.82 606.03,365.20 606.67,366.77 607.30,368.54 607.94,367.11 608.58,364.28 609.21,365.46 609.85,364.30 610.49,363.75 611.12,363.88 611.76,366.38 612.40,367.01 613.03,370.10 613.67,366.63 614.30,364.06 614.94,369.59 615.58,366.62 616.21,365.79 616.85,367.52 617.49,366.23 618.12,366.46 618.76,367.27 619.40,366.92 620.03,365.09 620.67,365.12 621.30,363.89 621.94,369.51 622.58,359.10 623.21,366.48 623.85,364.87 624.49,364.36 625.12,366.85 625.76,367.52 626.40,367.02 627.03,367.25 627.67,366.67 628.31,364.81 628.94,367.66 629.58,365.81 630.21,368.10 630.85,369.44 631.49,367.30 632.12,364.91 632.76,366.60 633.40,361.89 634.03,369.46 634.67,365.92 635.31,367.13 635.94,367.32 636.58,365.33 637.21,365.29 637.85,364.80 638.49,367.88 639.12,366.02 639.76,363.97 640.40,359.70 641.03,366.39 641.67,366.02 642.31,367.14 642.94,364.07 643.58,371.70 644.22,366.50 644.85,365.26 645.49,365.75 646.12,365.94 646.76,367.24 647.40,367.81 648.03,366.77 648.67,365.98 649.31,366.08 649.94,370.41 650.58,368.58 651.22,367.58 651.85,362.42 652.49,366.90 653.12,365.76 653.76,366.92 654.40,367.62 655.03,367.46 655.67,360.50 656.31,373.50 656.94,364.59 657.58,362.83 658.22,365.29 658.85,365.98 659.49,364.41 660.13,366.50"/>
<rect x="29.80" y="302.40" width="660.20" height="116.00" fill="none" stroke="#8a8a8a" stroke-width="1"/>
<line x1="27.90" y1="315.90" x2="29.80" y2="315.90" stroke="#707070" stroke-width="1"/>
<text x="29.20" y="318.54" text-anchor="end" transform="scale(0.870,1)">100</text>
<line x1="27.90" y1="341.30" x2="29.80" y2="341.30" stroke="#707070" stroke-width="1"/>
<text x="29.20" y="343.94" text-anchor="end" transform="scale(0.870,1)">50</text>
<line x1="27.90" y1="366.70" x2="29.80" y2="366.70" stroke="#707070" stroke-width="1"/>
<text x="29.20" y="369.34" text-anchor="end" transform="scale(0.870,1)">0</text>
<line x1="27.90" y1="392.10" x2="29.80" y2="392.10" stroke="#707070" stroke-width="1"/>
<text x="29.20" y="394.74" text-anchor="end" transform="scale(0.870,1)">−50</text>
<line x1="27.90" y1="417.50" x2="29.80" y2="417.50" stroke="#707070" stroke-width="1"/>
<text x="29.20" y="420.14" text-anchor="end" transform="scale(0.870,1)">−100</text>
<line x1="60.00" y1="418.40" x2="60.00" y2="421.40" stroke="#707070" stroke-width="1"/>
<text x="68.97" y="427.69" text-anchor="middle" transform="scale(0.870,1)">0</text>
<line x1="187.28" y1="418.40" x2="187.28" y2="421.40" stroke="#707070" stroke-width="1"/>
<text x="215.26" y="427.69" text-anchor="middle" transform="scale(0.870,1)">200</text>
<line x1="314.56" y1="418.40" x2="314.56" y2="421.40" stroke="#707070" stroke-width="1"/>
<text x="361.56" y="427.69" text-anchor="middle" transform="scale(0.870,1)">400</text>
<line x1="441.84" y1="418.40" x2="441.84" y2="421.40" stroke="#707070" stroke-width="1"/>
<text x="507.86" y="427.69" text-anchor="middle" transform="scale(0.870,1)">600</text>
<line x1="569.12" y1="418.40" x2="569.12" y2="421.40" stroke="#707070" stroke-width="1"/>
<text x="654.16" y="427.69" text-anchor="middle" transform="scale(0.870,1)">800</text>
<text class="t" x="413.10" y="299.10" text-anchor="middle" transform="scale(0.870,1)">yaw</text>
</svg>
</body></html>
